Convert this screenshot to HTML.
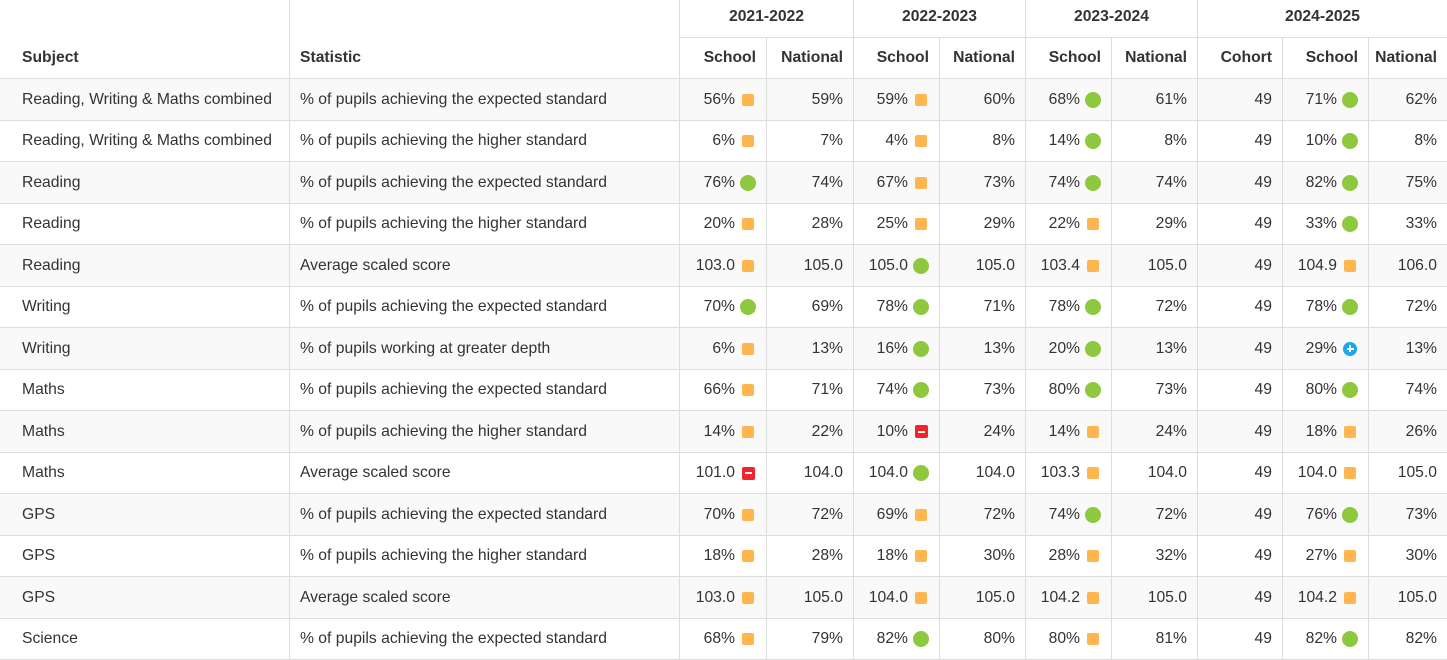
<!DOCTYPE html>
<html>
<head>
<meta charset="utf-8">
<style>
html,body{margin:0;padding:0;background:#fff;}
body{width:1447px;height:660px;overflow:hidden;font-family:"Liberation Sans",Arial,sans-serif;font-size:15.7px;color:#333;}
.g{display:grid;grid-template-columns:289px 390px 87px 87px 86px 86px 86px 86px 85px 86px 79px;
grid-template-rows:38px 41px 42px 41px 42px 41px 42px 41px 42px 41px 42px 41px 42px 41px 42px 41px;width:1448px;}
.c{box-sizing:border-box;border-bottom:1px solid #ddd;border-left:1px solid #ddd;display:flex;align-items:center;justify-content:flex-end;padding:0 10px 0 8px;white-space:nowrap;overflow:hidden;}
.c.f{border-left:none;justify-content:flex-start;padding-left:22px;}
.c.s{justify-content:flex-start;padding-left:10px;}
.h{font-weight:bold;color:#333;}
.hy{justify-content:center;padding:0 0 4px 0;}
.hb{align-items:center;padding-top:38px;}
.z{background:#f9f9f9;}
.i{display:inline-flex;width:16px;height:16px;justify-content:center;align-items:center;margin-left:5px;}
.o{width:12px;height:12px;background:#ffb64f;border-radius:2px;}
.gr{width:16px;height:16px;border-radius:50%;background:#8dc83f;}
.r{width:13px;height:13px;background:#f2232b;border-radius:2px;position:relative;}
.r:after{content:"";position:absolute;left:3px;top:5.5px;width:7px;height:2px;background:#fff;}
.b{width:14px;height:14px;border-radius:50%;background:#1ba7f0;position:relative;}
.b:before{content:"";position:absolute;left:3.5px;top:6px;width:7px;height:2px;background:#fff;}
.b:after{content:"";position:absolute;left:6px;top:3.5px;width:2px;height:7px;background:#fff;}
</style>
</head>
<body>
<div class="g">
<div class="c f h hb" style="grid-row:1/3;grid-column:1;">Subject</div>
<div class="c s h hb" style="grid-row:1/3;grid-column:2;">Statistic</div>
<div class="c h hy" style="grid-row:1;grid-column:3/5;">2021-2022</div>
<div class="c h hy" style="grid-row:1;grid-column:5/7;">2022-2023</div>
<div class="c h hy" style="grid-row:1;grid-column:7/9;">2023-2024</div>
<div class="c h hy" style="grid-row:1;grid-column:9/12;">2024-2025</div>
<div class="c h" style="grid-row:2;grid-column:3;">School</div>
<div class="c h" style="grid-row:2;grid-column:4;">National</div>
<div class="c h" style="grid-row:2;grid-column:5;">School</div>
<div class="c h" style="grid-row:2;grid-column:6;">National</div>
<div class="c h" style="grid-row:2;grid-column:7;">School</div>
<div class="c h" style="grid-row:2;grid-column:8;">National</div>
<div class="c h" style="grid-row:2;grid-column:9;">Cohort</div>
<div class="c h" style="grid-row:2;grid-column:10;">School</div>
<div class="c h" style="grid-row:2;grid-column:11;">National</div>

<div class="c f z">Reading, Writing &amp; Maths combined</div><div class="c s z">% of pupils achieving the expected standard</div><div class="c z">56%<span class="i"><span class="o"></span></span></div><div class="c z">59%</div><div class="c z">59%<span class="i"><span class="o"></span></span></div><div class="c z">60%</div><div class="c z">68%<span class="i"><span class="gr"></span></span></div><div class="c z">61%</div><div class="c z">49</div><div class="c z">71%<span class="i"><span class="gr"></span></span></div><div class="c z">62%</div>

<div class="c f">Reading, Writing &amp; Maths combined</div><div class="c s">% of pupils achieving the higher standard</div><div class="c">6%<span class="i"><span class="o"></span></span></div><div class="c">7%</div><div class="c">4%<span class="i"><span class="o"></span></span></div><div class="c">8%</div><div class="c">14%<span class="i"><span class="gr"></span></span></div><div class="c">8%</div><div class="c">49</div><div class="c">10%<span class="i"><span class="gr"></span></span></div><div class="c">8%</div>

<div class="c f z">Reading</div><div class="c s z">% of pupils achieving the expected standard</div><div class="c z">76%<span class="i"><span class="gr"></span></span></div><div class="c z">74%</div><div class="c z">67%<span class="i"><span class="o"></span></span></div><div class="c z">73%</div><div class="c z">74%<span class="i"><span class="gr"></span></span></div><div class="c z">74%</div><div class="c z">49</div><div class="c z">82%<span class="i"><span class="gr"></span></span></div><div class="c z">75%</div>

<div class="c f">Reading</div><div class="c s">% of pupils achieving the higher standard</div><div class="c">20%<span class="i"><span class="o"></span></span></div><div class="c">28%</div><div class="c">25%<span class="i"><span class="o"></span></span></div><div class="c">29%</div><div class="c">22%<span class="i"><span class="o"></span></span></div><div class="c">29%</div><div class="c">49</div><div class="c">33%<span class="i"><span class="gr"></span></span></div><div class="c">33%</div>

<div class="c f z">Reading</div><div class="c s z">Average scaled score</div><div class="c z">103.0<span class="i"><span class="o"></span></span></div><div class="c z">105.0</div><div class="c z">105.0<span class="i"><span class="gr"></span></span></div><div class="c z">105.0</div><div class="c z">103.4<span class="i"><span class="o"></span></span></div><div class="c z">105.0</div><div class="c z">49</div><div class="c z">104.9<span class="i"><span class="o"></span></span></div><div class="c z">106.0</div>

<div class="c f">Writing</div><div class="c s">% of pupils achieving the expected standard</div><div class="c">70%<span class="i"><span class="gr"></span></span></div><div class="c">69%</div><div class="c">78%<span class="i"><span class="gr"></span></span></div><div class="c">71%</div><div class="c">78%<span class="i"><span class="gr"></span></span></div><div class="c">72%</div><div class="c">49</div><div class="c">78%<span class="i"><span class="gr"></span></span></div><div class="c">72%</div>

<div class="c f z">Writing</div><div class="c s z">% of pupils working at greater depth</div><div class="c z">6%<span class="i"><span class="o"></span></span></div><div class="c z">13%</div><div class="c z">16%<span class="i"><span class="gr"></span></span></div><div class="c z">13%</div><div class="c z">20%<span class="i"><span class="gr"></span></span></div><div class="c z">13%</div><div class="c z">49</div><div class="c z">29%<span class="i"><span class="b"></span></span></div><div class="c z">13%</div>

<div class="c f">Maths</div><div class="c s">% of pupils achieving the expected standard</div><div class="c">66%<span class="i"><span class="o"></span></span></div><div class="c">71%</div><div class="c">74%<span class="i"><span class="gr"></span></span></div><div class="c">73%</div><div class="c">80%<span class="i"><span class="gr"></span></span></div><div class="c">73%</div><div class="c">49</div><div class="c">80%<span class="i"><span class="gr"></span></span></div><div class="c">74%</div>

<div class="c f z">Maths</div><div class="c s z">% of pupils achieving the higher standard</div><div class="c z">14%<span class="i"><span class="o"></span></span></div><div class="c z">22%</div><div class="c z">10%<span class="i"><span class="r"></span></span></div><div class="c z">24%</div><div class="c z">14%<span class="i"><span class="o"></span></span></div><div class="c z">24%</div><div class="c z">49</div><div class="c z">18%<span class="i"><span class="o"></span></span></div><div class="c z">26%</div>

<div class="c f">Maths</div><div class="c s">Average scaled score</div><div class="c">101.0<span class="i"><span class="r"></span></span></div><div class="c">104.0</div><div class="c">104.0<span class="i"><span class="gr"></span></span></div><div class="c">104.0</div><div class="c">103.3<span class="i"><span class="o"></span></span></div><div class="c">104.0</div><div class="c">49</div><div class="c">104.0<span class="i"><span class="o"></span></span></div><div class="c">105.0</div>

<div class="c f z">GPS</div><div class="c s z">% of pupils achieving the expected standard</div><div class="c z">70%<span class="i"><span class="o"></span></span></div><div class="c z">72%</div><div class="c z">69%<span class="i"><span class="o"></span></span></div><div class="c z">72%</div><div class="c z">74%<span class="i"><span class="gr"></span></span></div><div class="c z">72%</div><div class="c z">49</div><div class="c z">76%<span class="i"><span class="gr"></span></span></div><div class="c z">73%</div>

<div class="c f">GPS</div><div class="c s">% of pupils achieving the higher standard</div><div class="c">18%<span class="i"><span class="o"></span></span></div><div class="c">28%</div><div class="c">18%<span class="i"><span class="o"></span></span></div><div class="c">30%</div><div class="c">28%<span class="i"><span class="o"></span></span></div><div class="c">32%</div><div class="c">49</div><div class="c">27%<span class="i"><span class="o"></span></span></div><div class="c">30%</div>

<div class="c f z">GPS</div><div class="c s z">Average scaled score</div><div class="c z">103.0<span class="i"><span class="o"></span></span></div><div class="c z">105.0</div><div class="c z">104.0<span class="i"><span class="o"></span></span></div><div class="c z">105.0</div><div class="c z">104.2<span class="i"><span class="o"></span></span></div><div class="c z">105.0</div><div class="c z">49</div><div class="c z">104.2<span class="i"><span class="o"></span></span></div><div class="c z">105.0</div>

<div class="c f">Science</div><div class="c s">% of pupils achieving the expected standard</div><div class="c">68%<span class="i"><span class="o"></span></span></div><div class="c">79%</div><div class="c">82%<span class="i"><span class="gr"></span></span></div><div class="c">80%</div><div class="c">80%<span class="i"><span class="o"></span></span></div><div class="c">81%</div><div class="c">49</div><div class="c">82%<span class="i"><span class="gr"></span></span></div><div class="c">82%</div>
</div>
</body>
</html>
